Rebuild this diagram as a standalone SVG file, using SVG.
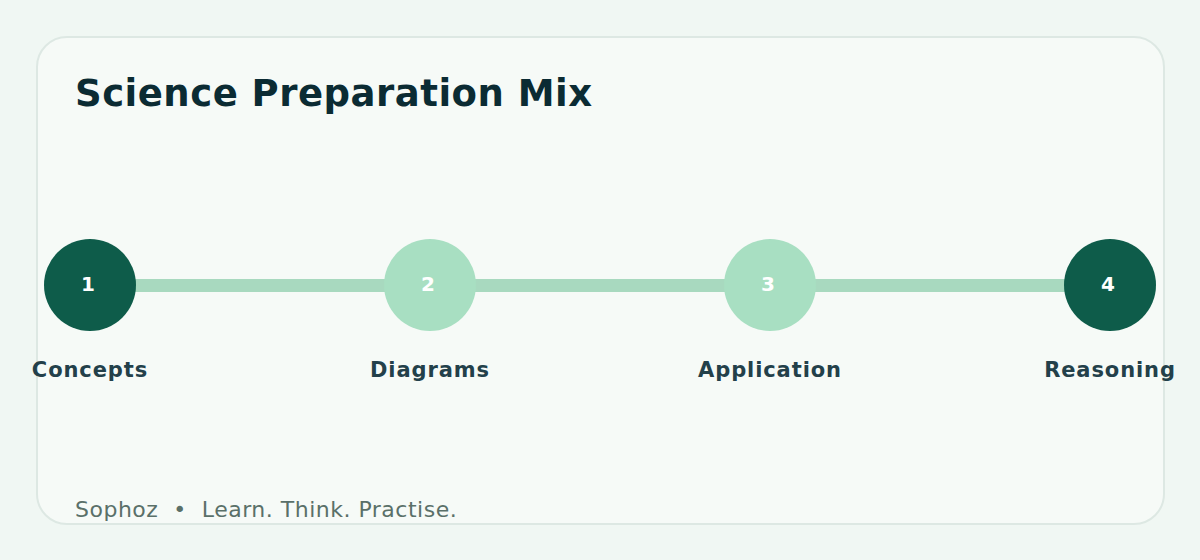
<svg xmlns="http://www.w3.org/2000/svg" width="1200" height="560" viewBox="0 0 1200 560">
<style>
.num{font-family:"DejaVu Sans",sans-serif;font-weight:bold;font-size:20px;fill:#ffffff;text-anchor:middle}
.lbl{font-family:"DejaVu Sans",sans-serif;font-weight:bold;font-size:21px;letter-spacing:0.9px;fill:#23404a;text-anchor:middle}
.dark{fill:#0e5c4a}
.light{fill:#a8dfc2}
</style>
<rect width="1200" height="560" fill="#f0f7f3"/>
<rect x="37" y="37" width="1127" height="487" rx="30" fill="#f6faf7" stroke="#dde8e3" stroke-width="2"/>
<text x="75" y="106" font-family="DejaVu Sans,sans-serif" font-weight="bold" font-size="37" letter-spacing="0.5" fill="#0b2b33">Science Preparation Mix</text>
<g id="connectors"><rect x="90" y="279" width="1020" height="13" fill="#a8d9bf"/></g>
<g id="n1"><circle cx="90" cy="285" r="46" class="dark"/><text x="88" y="291" class="num">1</text><text x="90" y="377" class="lbl">Concepts</text></g>
<g id="n2"><circle cx="430" cy="285" r="46" class="light"/><text x="428" y="291" class="num">2</text><text x="430" y="377" class="lbl">Diagrams</text></g>
<g id="n3"><circle cx="770" cy="285" r="46" class="light"/><text x="768" y="291" class="num">3</text><text x="770" y="377" class="lbl">Application</text></g>
<g id="n4"><circle cx="1110" cy="285" r="46" class="dark"/><text x="1108" y="291" class="num">4</text><text x="1110" y="377" class="lbl">Reasoning</text></g>
<text x="75" y="517" font-family="DejaVu Sans,sans-serif" font-size="22" letter-spacing="0.5" fill="#5a7069" xml:space="preserve">Sophoz  •  Learn. Think. Practise.</text>
</svg>
